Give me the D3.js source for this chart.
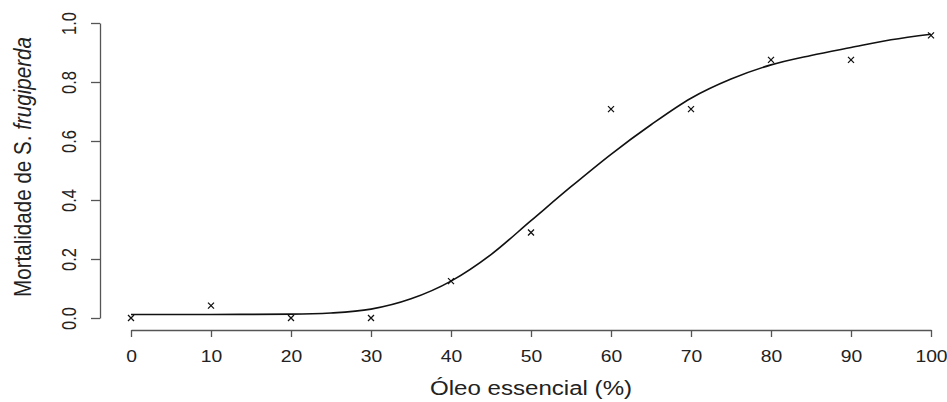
<!DOCTYPE html>
<html>
<head>
<meta charset="utf-8">
<script src="https://cdn.jsdelivr.net/npm/d3@7/dist/d3.min.js"></script>
<style>
html,body{margin:0;padding:0;background:#fff;}
text{font-family:"Liberation Sans",Arial,sans-serif;fill:#222;}
</style>
</head>
<body>
<script>
// Observed data
const doses = [0, 10, 20, 30, 40, 50, 60, 70, 80, 90, 100];
const mortality = [0, 0.042, 0, 0, 0.125, 0.29, 0.708, 0.708, 0.875, 0.875, 0.958];
// Fitted curve
const curveX = [0, 10, 20, 25, 30, 35, 40, 45, 50, 55, 60, 65, 70, 75, 80, 85, 90, 95, 100];
const curveY = [0.012, 0.012, 0.013, 0.017, 0.03, 0.065, 0.125, 0.215, 0.33, 0.445, 0.555, 0.655, 0.745, 0.81, 0.858, 0.89, 0.917, 0.943, 0.962];
const xTicks = [0, 10, 20, 30, 40, 50, 60, 70, 80, 90, 100];
const yTicks = [0.0, 0.2, 0.4, 0.6, 0.8, 1.0];
const xTitle = "Óleo essencial (%)";

const W = 947, H = 402;
const SX = 1.17; // horizontal stretch of the glyphs seen in the reference
const svg = d3.select("body").append("svg").attr("width", W).attr("height", H);

const x = d3.scaleLinear().domain([0, 100]).range([131, 931]);
const y = d3.scaleLinear().domain([0, 1]).range([318, 23]);

const axisColor = "#555";

// Y axis
const yAxis = svg.append("g").attr("transform", "translate(100,0)")
  .call(d3.axisLeft(y).tickValues(yTicks).tickFormat(d3.format(".1f")).tickSize(9).tickSizeOuter(0));
yAxis.select(".domain").attr("stroke", axisColor).attr("stroke-width", 1.3);
yAxis.selectAll(".tick line").attr("stroke", axisColor).attr("stroke-width", 1.3);
yAxis.selectAll(".tick text")
  .attr("font-size", 16.5).attr("x", 0).attr("dy", 0)
  .attr("text-anchor", "middle")
  .attr("transform", `translate(-30.5,0) scale(${SX},1) rotate(-90)`)
  .attr("dominant-baseline", "central")
  .style("fill", "#222");

// X axis
const xAxis = svg.append("g").attr("transform", "translate(0,330)")
  .call(d3.axisBottom(x).tickValues(xTicks).tickFormat(d3.format("d")).tickSize(7).tickSizeOuter(0));
xAxis.select(".domain").attr("stroke", axisColor).attr("stroke-width", 1.3);
xAxis.selectAll(".tick line").attr("stroke", axisColor).attr("stroke-width", 1.3);
xAxis.selectAll(".tick text").attr("font-size", 16.5).attr("y", 20).attr("dy", "0.71em")
  .attr("transform", `scale(${SX},1)`).style("fill", "#222");

// Titles
svg.append("text").attr("transform", `translate(531,395) scale(${SX},1)`).attr("text-anchor", "middle")
  .attr("font-size", 20.6).text(xTitle);

const yt = svg.append("text").attr("transform", `translate(31,167) scale(${SX},1) rotate(-90)`)
  .attr("text-anchor", "middle").attr("font-size", 20.6);
yt.append("tspan").text("Mortalidade de S. ");
yt.append("tspan").attr("font-style", "italic").text("frugiperda");

// Fitted curve
const line = d3.line().x(d => x(d[0])).y(d => y(d[1])).curve(d3.curveMonotoneX);
svg.append("path").datum(curveX.map((v, i) => [v, curveY[i]]))
  .attr("d", line).attr("fill", "none").attr("stroke", "#111").attr("stroke-width", 1.6);

// Points (x markers)
const s = 3;
const pts = svg.append("g").selectAll("g").data(doses.map((v, i) => [v, mortality[i]])).enter().append("g")
  .attr("transform", d => `translate(${x(d[0])},${y(d[1])})`);
pts.append("path").attr("d", `M${-s},${-s}L${s},${s}M${-s},${s}L${s},${-s}`)
  .attr("stroke", "#111").attr("stroke-width", 1.3);
</script>
</body>
</html>
